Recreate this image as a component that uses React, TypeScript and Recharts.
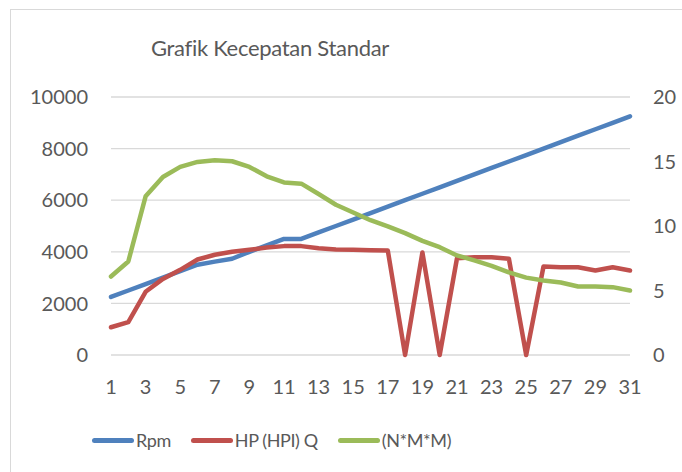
import React from 'react';
import { LineChart, Line, XAxis, YAxis, CartesianGrid } from 'recharts';

const categories = [1, 2, 3, 4, 5, 6, 7, 8, 9, 10, 11, 12, 13, 14, 15, 16, 17, 18, 19, 20, 21, 22, 23, 24, 25, 26, 27, 28, 29, 30, 31];

const rpm = [2250, 2500, 2750, 3000, 3250, 3500, 3620, 3730, 4000, 4250, 4500, 4500, 4750, 5000, 5250, 5500, 5750, 6000, 6250, 6500, 6750, 7000, 7250, 7500, 7750, 8000, 8250, 8500, 8750, 9000, 9250];

const hp = [2.15, 2.55, 4.9, 5.9, 6.6, 7.4, 7.77, 8.0, 8.16, 8.33, 8.44, 8.44, 8.28, 8.18, 8.16, 8.12, 8.1, 0, 7.95, 0, 7.5, 7.58, 7.58, 7.46, 0, 6.86, 6.8, 6.8, 6.55, 6.8, 6.55];

const nmm = [6.08, 7.25, 12.3, 13.8, 14.58, 14.97, 15.1, 15.02, 14.58, 13.85, 13.38, 13.28, 12.48, 11.65, 11.05, 10.45, 9.97, 9.45, 8.85, 8.36, 7.72, 7.33, 6.91, 6.4, 6.0, 5.77, 5.62, 5.31, 5.31, 5.26, 5.0];

const leftTicks = [0, 2000, 4000, 6000, 8000, 10000];
const rightTicks = [0, 5, 10, 15, 20];

const series = [
  { key: 'rpm', name: 'Rpm', color: '#4f81bd', axis: 'left' },
  { key: 'hp', name: 'HP (HPI) Q', color: '#c0504d', axis: 'right' },
  { key: 'nmm', name: '(N*M*M)', color: '#9bbb59', axis: 'right' },
];

const data = categories.map((c, i) => ({ x: c, rpm: rpm[i], hp: hp[i], nmm: nmm[i] }));

const FONT = 'Lato, "Open Sans", sans-serif';
const TEXT = '#595959';
const tickStyle = { fontSize: 20, fill: TEXT, fontFamily: FONT };

export default function App() {
  return (
    <div style={{ position: 'fixed', left: 0, top: 0, width: 682, height: 472, background: '#fff', overflow: 'hidden', fontFamily: FONT }}>
      {/* chart frame, runs off the right/bottom edges like the screenshot */}
      <div style={{ position: 'absolute', left: 10, top: 9, width: 800, height: 600, border: '1.5px solid #d9d9d9' }} />
      <div style={{ position: 'absolute', left: 70, width: 400, top: 34, textAlign: 'center', fontSize: 22, letterSpacing: -0.3, color: TEXT }}>
        Grafik Kecepatan Standar
      </div>
      <div style={{ position: 'absolute', left: 0, top: 0 }}>
        <LineChart width={682} height={472} data={data} margin={{ top: 97, right: 7, bottom: 87, left: 31 }}>
          <CartesianGrid vertical={false} stroke="#d9d9d9" strokeWidth={1.3} yAxisId="left" />
          <XAxis dataKey="x" interval={1} axisLine={false} tickLine={false} tickMargin={19} height={30} tick={tickStyle} />
          <YAxis yAxisId="left" domain={[0, 10000]} ticks={leftTicks} axisLine={false} tickLine={false} tickMargin={17} width={80} tick={tickStyle} />
          <YAxis yAxisId="right" orientation="right" domain={[0, 20]} ticks={rightTicks} axisLine={false} tickLine={false} tickMargin={17} width={45} tick={{ ...tickStyle, textAnchor: 'start' }} />
          {series.map((s) => (
            <Line
              key={s.key}
              yAxisId={s.axis}
              dataKey={s.key}
              name={s.name}
              stroke={s.color}
              strokeWidth={4.5}
              strokeLinecap="round"
              strokeLinejoin="round"
              dot={false}
              type="linear"
              isAnimationActive={false}
            />
          ))}
        </LineChart>
      </div>
      <div style={{ position: 'absolute', left: 92, top: 429, display: 'flex', alignItems: 'center', fontSize: 18, letterSpacing: -0.4, color: TEXT }}>
        {series.map((s) => (
          <div key={s.key} style={{ display: 'flex', alignItems: 'center', marginRight: 20 }}>
            <div style={{ width: 42, height: 5, borderRadius: 3, background: s.color, marginRight: 2 }} />
            <span>{s.name}</span>
          </div>
        ))}
      </div>
    </div>
  );
}
